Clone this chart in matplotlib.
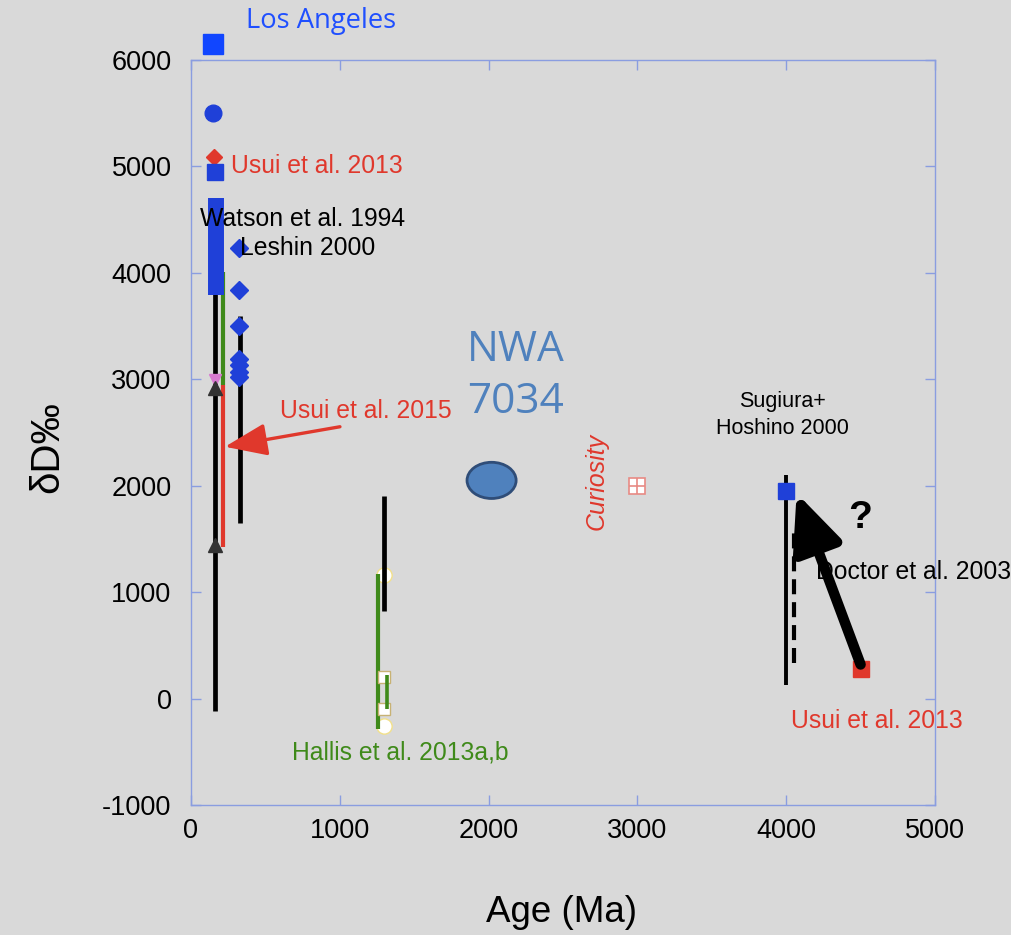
import matplotlib
matplotlib.use("Agg")
import matplotlib.pyplot as plt
from matplotlib.patches import Ellipse

# ---- data ---------------------------------------------------------------
# Los Angeles meteorite measurements (age Ma, dD permil)
la_square = (150, 6150)
la_circle = (150, 5500)
usui13_diamond = (155, 5090)
usui13_square = (160, 4950)
watson_bar_x, watson_bar_y = 165, (3790, 4700)
shergottite_range_x, shergottite_range_y = 161, (-120, 4360)
green_range_x, green_range_y = 215, (2950, 4010)
usui15_range_x, usui15_range_y = 215, (1420, 2950)
triangle_up_y = [2920, 1446]
triangle_down_y = [2990]
leshin_x = 323
leshin_diamond_y = [4235, 3840, 3500, 3190, 3130, 3070, 3020]
leshin_range_x, leshin_range_y = 329, (1650, 3590)

# Nakhlites (Hallis et al.)
hallis_black_x, hallis_black_y = 1297, (820, 1900)
hallis_green_x, hallis_green_y = 1257, (-290, 1170)
hallis_small_x, hallis_small_y = 1317, (-100, 225)
hallis_squares_x, hallis_squares_y = 1300, [207, -100]
hallis_circles_x, hallis_circles_y = 1297, [1165, -260]

# NWA 7034, Curiosity
nwa_center = (2020, 2050)
nwa_size = (330, 340)
curiosity = (3000, 2000)

# ALH 84001
alh_square = (4000, 1950)
alh_range_x, alh_range_y = 4000, (130, 2100)
doctor_x, doctor_y = 4052, (338, 1615)
usui_alh = (4500, 280)
arrow_to = (4070, 1930)
arrow_from = (4500, 320)

xticks = [0, 1000, 2000, 3000, 4000, 5000]
yticks = [-1000, 0, 1000, 2000, 3000, 4000, 5000, 6000]

# ---- style --------------------------------------------------------------
BG = "#d9d9d9"
AXC = "#8a9de0"
BLUE = "#1f40d8"
RED = "#e0382c"
GREEN = "#3f8a1a"
SANS = ["Liberation Sans", "DejaVu Sans"]
plt.rcParams["font.family"] = SANS

fig = plt.figure(figsize=(10.12, 9.35), dpi=100, facecolor=BG)
ax = fig.add_axes([191 / 1012, 1 - 805 / 935, (935 - 191) / 1012, (805 - 60) / 935])
ax.set_facecolor(BG)
ax.set_xlim(0, 5000)
ax.set_ylim(-1000, 6000)
ax.set_xticks(xticks)
ax.set_yticks(yticks)
ax.set_xticklabels([str(v) for v in xticks])
ax.set_yticklabels([str(v) for v in yticks])
for s in ax.spines.values():
    s.set_color(AXC)
    s.set_linewidth(1.0)
ax.tick_params(axis="both", which="both", direction="in", length=7, width=1,
               color=AXC, top=True, right=True, labelsize=19.5)
ax.tick_params(axis="y", pad=14)
ax.tick_params(axis="x", pad=9)

# ---- left cluster --------------------------------------------------------
ax.plot([shergottite_range_x] * 2, shergottite_range_y,
        color="black", lw=3.4, solid_capstyle="butt", zorder=3)
ax.plot([watson_bar_x] * 2, watson_bar_y, color=BLUE, lw=11.5,
        solid_capstyle="butt", zorder=4)
ax.plot([green_range_x] * 2, green_range_y, color=GREEN, lw=3.0,
        solid_capstyle="butt", zorder=3)
ax.plot([usui15_range_x] * 2, usui15_range_y, color=RED, lw=3.0,
        solid_capstyle="butt", zorder=3)
ax.plot([shergottite_range_x] * len(triangle_up_y), triangle_up_y, "^",
        color="#333333", ms=10, zorder=5)
ax.plot([shergottite_range_x] * len(triangle_down_y), triangle_down_y, "v",
        color="#d77ad0", ms=8, zorder=4)
ax.plot([leshin_range_x] * 2, leshin_range_y, color="black", lw=3.4,
        solid_capstyle="butt", zorder=3)
ax.plot([leshin_x] * len(leshin_diamond_y), leshin_diamond_y, "D",
        color=BLUE, ms=9, zorder=5)
ax.plot(*la_circle, "o", color=BLUE, ms=12, zorder=5)
ax.plot(*usui13_diamond, "D", color=RED, ms=8, zorder=5)
ax.plot(*usui13_square, "s", color=BLUE, ms=11, zorder=6)
ax.plot(*la_square, "s", color="#1146ff", ms=15, zorder=6, clip_on=False)

# ---- nakhlites -----------------------------------------------------------
ax.plot([hallis_black_x] * 2, hallis_black_y, color="black", lw=3.4,
        solid_capstyle="butt", zorder=3)
ax.plot([hallis_green_x] * 2, hallis_green_y, color=GREEN, lw=3.0,
        solid_capstyle="butt", zorder=3)
ax.plot([hallis_squares_x] * len(hallis_squares_y), hallis_squares_y, "s",
        mfc="white", mec="#c8b274", ms=9, mew=1, zorder=4)
ax.plot([hallis_small_x] * 2, hallis_small_y, color=GREEN, lw=2.6,
        solid_capstyle="butt", zorder=5)
ax.plot([hallis_circles_x] * len(hallis_circles_y), hallis_circles_y, "o",
        mfc="white", mec="#f2e08a", ms=11, mew=1, zorder=2)

# ---- NWA 7034 and Curiosity ---------------------------------------------
ax.add_patch(Ellipse(nwa_center, nwa_size[0], nwa_size[1], facecolor="#4f81bd",
                     edgecolor="#2f4d78", lw=2, zorder=4))
ax.plot(*curiosity, "s", mfc="white", mec="#e88a84", ms=11, mew=1.2, zorder=4)
ax.plot(*curiosity, "+", color="#e88a84", ms=11, mew=1.2, zorder=5)

# ---- ALH 84001 -----------------------------------------------------------
ax.plot([alh_range_x] * 2, alh_range_y, color="black", lw=2.8,
        solid_capstyle="butt", zorder=3)
ax.plot([doctor_x] * 2, doctor_y, color="black", lw=3, ls=(0, (3.6, 1.9)),
        zorder=3)
ax.plot(*alh_square, "s", color=BLUE, ms=12, zorder=5)
ax.plot(*usui_alh, "s", color=RED, ms=11.5, zorder=5)
ax.annotate("", xy=arrow_to, xytext=arrow_from,
            arrowprops=dict(arrowstyle="-|>,head_length=1.7,head_width=0.75",
                            lw=7.5, color="black", mutation_scale=20,
                            shrinkA=0, shrinkB=0),
            zorder=6)

# ---- labels --------------------------------------------------------------
TS = 17.8
ax.text(370, 6366, "Los Angeles", color="#1f4fff", fontsize=19.7,
        family=["Open Sans", "DejaVu Sans"], ha="left", va="center")
ax.text(269, 5005, "Usui et al. 2013", color=RED, fontsize=TS, ha="left",
        va="center", zorder=7)
ax.text(60, 4507, "Watson et al. 1994", color="black", fontsize=TS,
        ha="left", va="center", zorder=7)
ax.text(329, 4235, "Leshin 2000", color="black", fontsize=TS, ha="left",
        va="center", zorder=7)
ax.text(598, 2704, "Usui et al. 2015", color=RED, fontsize=TS, ha="left",
        va="center", zorder=7)
ax.annotate("", xy=(228, 2366), xytext=(1001, 2554),
            arrowprops=dict(arrowstyle="-|>,head_length=1.3,head_width=0.5",
                            lw=2.4, color=RED, mutation_scale=20,
                            shrinkA=0, shrinkB=0),
            zorder=7)
ax.text(679, -507, "Hallis et al. 2013a,b", color=GREEN, fontsize=TS,
        ha="left", va="center")
ax.text(2184, 3030, "NWA\n7034", color="#4f81bd", fontsize=30.5,
        family=["Open Sans", "DejaVu Sans"], ha="center", va="center",
        linespacing=1.33)
ax.text(2728, 2040, "Curiosity", color=RED, fontsize=18, style="italic",
        rotation=90, ha="center", va="center")
ax.text(3978, 2662, "Sugiura+\nHoshino 2000", color="black", fontsize=15.5,
        ha="center", va="center", linespacing=1.35)
ax.text(4496, 1700, "?", color="black", fontsize=28, fontweight="bold",
        ha="center", va="center")
ax.text(4200, 1192, "Doctor et al. 2003", color="black", fontsize=TS,
        ha="left", va="center", zorder=7)
ax.text(4032, -207, "Usui et al. 2013", color=RED, fontsize=TS, ha="left",
        va="center")

fig.text(47 / 1012, 1 - 447 / 935, "δD‰", rotation=90, fontsize=29,
         ha="center", va="center")
fig.text(562 / 1012, 1 - 912 / 935, "Age (Ma)", fontsize=26.5,
         ha="center", va="center")

fig.savefig("out.png", dpi=100, facecolor=BG)
